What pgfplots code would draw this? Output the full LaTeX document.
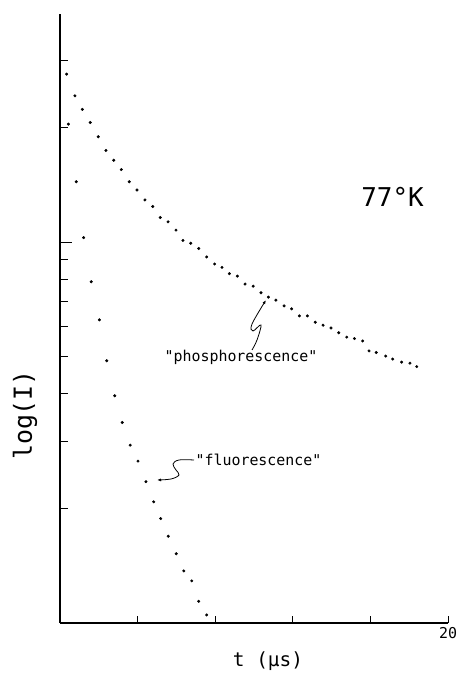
\documentclass[border=0pt]{standalone}
\usepackage{pgfplots}
\pgfplotsset{compat=1.18}
\usepackage{fontspec}
\usetikzlibrary{arrows.meta}
\newfontfamily\lt{DejaVu Sans Mono}
\begin{document}
\begin{tikzpicture}
\useasboundingbox (-60bp,-53bp) rectangle (397bp,623bp);
\begin{axis}[
  scale only axis, width=388bp, height=609bp,
  xmin=0, xmax=20, ymode=log, ymin=1, ymax=39.7,
  axis lines=left, axis line style={-, line width=1.1pt},
  xtick={4,8,12,16,20}, xticklabels={,,,,20},
  ytick={2,3,4,5,6,7,8,9,20,30}, yticklabels={},
  extra y ticks={10}, extra y tick labels={},
  extra y tick style={major tick length=11.5bp},
  minor tick num=0,
  tick align=inside, major tick length=7.5bp,
  tick style={line width=0.8pt, black},
  xticklabel style={font=\lt\fontsize{15}{17}\selectfont, yshift=-1bp},
  clip=false,
]
\addplot[only marks, mark=*, mark size=1.3bp, black] coordinates {
(0.34,27.6) (0.77,24.2) (1.15,22.3) (1.56,20.6) (1.97,18.9) (2.37,17.4)
(2.77,16.4) (3.16,15.5) (3.57,14.4) (3.97,13.7) (4.38,12.9) (4.78,12.4)
(5.17,11.6) (5.57,11.3) (5.98,10.75) (6.34,10.1) (6.74,9.93) (7.15,9.62)
(7.56,9.14) (7.97,8.76) (8.35,8.58) (8.73,8.26) (9.14,8.14) (9.54,7.76)
(9.96,7.66) (10.36,7.36) (10.74,7.17) (11.13,7.04) (11.55,6.80) (11.94,6.68)
(12.34,6.40) (12.75,6.40) (13.16,6.16) (13.56,6.05) (13.97,5.95) (14.37,5.78)
(14.78,5.63) (15.18,5.58) (15.60,5.50) (15.93,5.18) (16.30,5.13) (16.79,5.02)
(17.15,4.93) (17.61,4.84) (18.04,4.81) (18.39,4.71)
};
\addplot[only marks, mark=*, mark size=1.3bp, black] coordinates {
(0.43,20.4) (0.84,14.4) (1.22,10.27) (1.61,7.87) (2.03,6.25) (2.41,4.88)
(2.82,3.95) (3.21,3.36) (3.62,2.93) (4.02,2.66) (4.43,2.35) (4.83,2.08)
(5.19,1.88) (5.58,1.69) (5.99,1.52) (6.38,1.37) (6.79,1.29) (7.15,1.14)
(7.56,1.05)
};
\end{axis}
% labels (axis box lower-left is at the origin, 1bp = 1 px)
\node[rotate=90, font=\lt\fontsize{25}{28}\selectfont] at (-35bp,208bp) {log(I)};
\node[font=\lt\fontsize{19.5}{22}\selectfont] at (208bp,-38bp) {t (µs)};
\node[font=\lt\fontsize{26}{30}\selectfont] at (332.5bp,426bp) {77°K};
\node[font=\lt\fontsize{15}{17}\selectfont] at (181bp,266bp) {"phosphorescence"};
\node[font=\lt\fontsize{15}{17}\selectfont] at (198.5bp,163bp) {"fluorescence"};
% annotation squiggles
\draw[line width=0.8pt, -{Latex[length=4bp,width=3bp]}] plot[smooth, tension=0.6] coordinates {
 (192bp,273bp) (197bp,283bp) (201bp,298bp) (193bp,292bp) (192bp,299bp) (206bp,323bp)};
\draw[line width=0.8pt, -{Latex[length=4bp,width=3bp]}] plot[smooth, tension=0.6] coordinates {
 (134bp,163bp) (119bp,163bp) (113bp,159bp) (116bp,153bp) (119bp,148bp) (111bp,144bp) (97bp,143bp)};
\end{tikzpicture}
\end{document}
